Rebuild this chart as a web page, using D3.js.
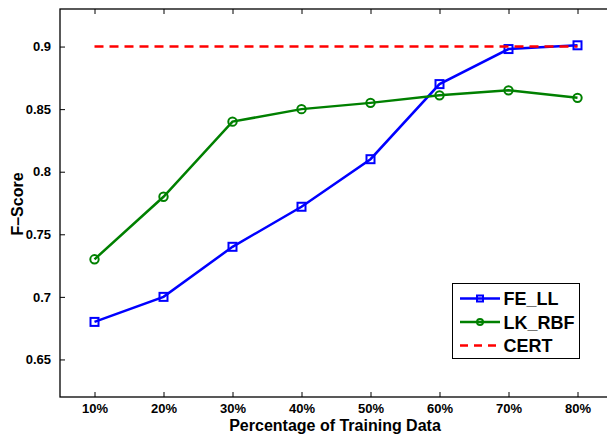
<!DOCTYPE html>
<html>
<head>
<meta charset="utf-8">
<script src="https://cdn.jsdelivr.net/npm/d3@7"></script>
<style>
  body { margin: 0; background: #fff; }
  svg text { font-family: "Liberation Sans", Arial, Helvetica, sans-serif; font-weight: bold; }
</style>
</head>
<body>
<div id="chart"></div>
<script>
// data
var categories = ["10%", "20%", "30%", "40%", "50%", "60%", "70%", "80%"];
var feLL   = [0.680, 0.700, 0.740, 0.772, 0.810, 0.870, 0.898, 0.901];
var lkRBF  = [0.730, 0.780, 0.840, 0.850, 0.855, 0.861, 0.865, 0.859];
var cert   = [0.900, 0.900, 0.900, 0.900, 0.900, 0.900, 0.900, 0.900];
var yTicks = [0.65, 0.7, 0.75, 0.8, 0.85, 0.9];
var seriesNames = ["FE_LL", "LK_RBF", "CERT"];

var W = 607, H = 434;
var M = {left: 60, top: 9, right: 612, bottom: 397};

var svg = d3.select("#chart").append("svg")
    .attr("width", W)
    .attr("height", H);

var x = d3.scaleLinear()
    .domain([0.5, categories.length + 0.5])
    .range([M.left, M.right]);
var y = d3.scaleLinear()
    .domain([0.62, 0.93])
    .range([M.bottom, M.top]);

var idx = d3.range(1, categories.length + 1);

// axes, matlab style: ticks inward, on all 4 sides
var xAxisB = d3.axisBottom(x).tickValues(idx)
    .tickFormat(function(d){ return categories[d-1]; })
    .tickSizeInner(-5).tickSizeOuter(0).tickPadding(7);
var xAxisT = d3.axisTop(x).tickValues(idx).tickFormat("").tickSizeInner(-5).tickSizeOuter(0);
var yAxisL = d3.axisLeft(y).tickValues(yTicks)
    .tickFormat(function(d){ return d3.format("")(+d.toFixed(2)); })
    .tickSizeInner(-5).tickSizeOuter(0).tickPadding(9);
var yAxisR = d3.axisRight(y).tickValues(yTicks).tickFormat("").tickSizeInner(-5).tickSizeOuter(0);

function styleAxis(g) {
  g.select(".domain").remove();
  g.selectAll(".tick line").attr("stroke", "#000").attr("stroke-width", 1);
  g.selectAll(".tick text").attr("fill", "#000").style("font-size", "13px");
}

svg.append("g").attr("transform", "translate(0," + M.bottom + ")").call(xAxisB).call(styleAxis);
svg.append("g").attr("transform", "translate(0," + M.top + ")").call(xAxisT).call(styleAxis);
svg.append("g").attr("transform", "translate(" + M.left + ",0)").call(yAxisL).call(styleAxis);
svg.append("g").attr("transform", "translate(" + M.right + ",0)").call(yAxisR).call(styleAxis);

svg.append("rect")
    .attr("x", M.left).attr("y", M.top)
    .attr("width", M.right - M.left).attr("height", M.bottom - M.top)
    .attr("fill", "none").attr("stroke", "#000").attr("stroke-width", 1.3);

// axis labels
svg.append("text")
    .attr("x", 335).attr("y", 431)
    .attr("text-anchor", "middle")
    .style("font-size", "16px")
    .text("Percentage of Training Data");
svg.append("text")
    .attr("transform", "translate(23,204) rotate(-90)")
    .attr("text-anchor", "middle")
    .style("font-size", "16px")
    .text("F\u2013Score");

var line = d3.line()
    .x(function(d, i){ return x(i + 1); })
    .y(function(d){ return y(d); });

// FE_LL
svg.append("path").datum(feLL)
    .attr("d", line).attr("fill", "none")
    .attr("stroke", "#0000ff").attr("stroke-width", 2.5);
svg.selectAll(".sq").data(feLL).enter().append("rect")
    .attr("class", "sq")
    .attr("x", function(d, i){ return x(i + 1) - 4; })
    .attr("y", function(d){ return y(d) - 4; })
    .attr("width", 8).attr("height", 8)
    .attr("fill", "none").attr("stroke", "#0000ff").attr("stroke-width", 2);

// LK_RBF
svg.append("path").datum(lkRBF)
    .attr("d", line).attr("fill", "none")
    .attr("stroke", "#008000").attr("stroke-width", 2.5);
svg.selectAll(".circ").data(lkRBF).enter().append("circle")
    .attr("class", "circ")
    .attr("cx", function(d, i){ return x(i + 1); })
    .attr("cy", function(d){ return y(d); })
    .attr("r", 4.2)
    .attr("fill", "none").attr("stroke", "#008000").attr("stroke-width", 2);

// CERT
svg.append("path").datum(cert)
    .attr("d", line).attr("fill", "none")
    .attr("stroke", "#ff0000").attr("stroke-width", 2.5)
    .attr("stroke-dasharray", "9,6");

// legend
var lg = svg.append("g");
lg.append("rect")
    .attr("x", 452.5).attr("y", 283.5)
    .attr("width", 127).attr("height", 75)
    .attr("fill", "#fff").attr("stroke", "#000").attr("stroke-width", 1);

var legendColors = ["#0000ff", "#008000", "#ff0000"];
seriesNames.forEach(function(name, i) {
  var ly = 298.5 + i * 23.5;
  var seg = lg.append("line")
      .attr("x1", 460).attr("x2", 500)
      .attr("y1", ly).attr("y2", ly)
      .attr("stroke", legendColors[i]).attr("stroke-width", 2.5);
  if (i === 2) seg.attr("stroke-dasharray", "8,6");
  if (i === 0) {
    lg.append("rect").attr("x", 477).attr("y", ly - 3).attr("width", 6).attr("height", 6)
      .attr("fill", "none").attr("stroke", legendColors[i]).attr("stroke-width", 2);
  } else if (i === 1) {
    lg.append("circle").attr("cx", 480).attr("cy", ly).attr("r", 3)
      .attr("fill", "none").attr("stroke", legendColors[i]).attr("stroke-width", 2);
  }
  lg.append("text")
      .attr("x", 503.5).attr("y", ly + 6.5)
      .style("font-size", "18px")
      .text(name);
});
</script>
</body>
</html>
